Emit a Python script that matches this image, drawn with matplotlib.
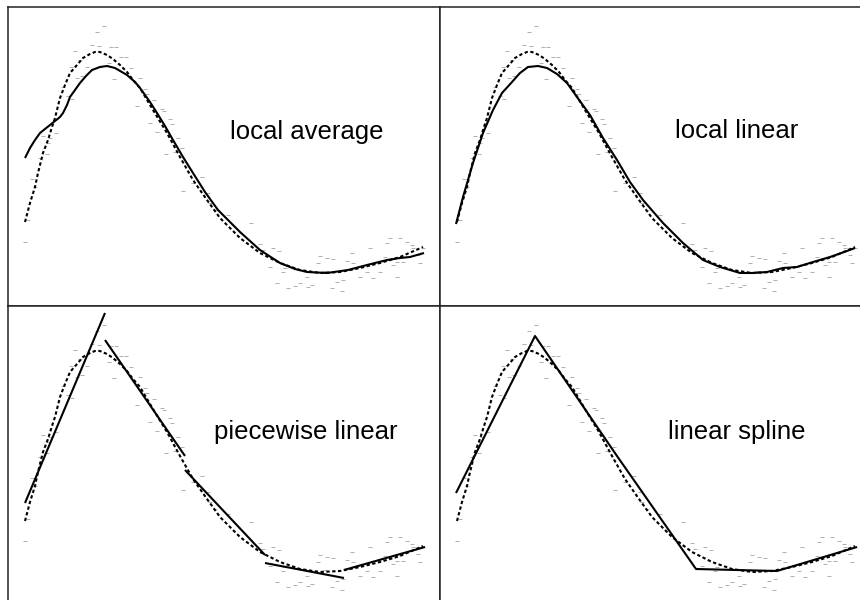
import numpy as np
import matplotlib
matplotlib.use("Agg")
import matplotlib.pyplot as plt

# ---- data (readings in panel units: x to the right, y measured downward) ----
pts_x = [25, 28, 32, 35, 40, 43, 47, 48, 50, 56, 63, 68, 72, 71, 75, 77, 80, 82, 87,
         92, 97, 99, 104, 109, 111, 114, 116, 121, 126, 131, 140, 137, 145, 147, 150,
         154, 157, 162, 164, 170, 172, 166, 175, 178, 182, 183, 193, 202, 208, 210,
         215, 228, 251, 260, 263, 273, 279, 270, 283, 285, 277, 288, 300, 295, 308,
         312, 307, 320, 327, 318, 333, 325, 337, 332, 342, 343, 347, 352, 353, 360,
         367, 370, 373, 380, 385, 387, 390, 393, 397, 400, 403, 407, 412, 413, 418,
         420, 423, 397]
pts_y = [242, 220, 179, 187, 158, 136, 154, 143, 138, 133, 87, 96, 99, 67, 51, 78, 60, 76, 67,
         45, 32, 46, 26, 63, 47, 79, 47, 57, 57, 68, 78, 106, 89, 94, 123,
         100, 132, 109, 111, 119, 124, 154, 152, 138, 148, 191, 183, 177, 193, 203,
         210, 215, 223, 244, 250, 248, 251, 267, 272, 268, 283, 288, 283, 286, 287,
         285, 277, 256, 258, 263, 259, 271, 282, 288, 291, 280, 261, 253, 263, 277,
         272, 248, 278, 272, 257, 243, 238, 265, 277, 238, 262, 242, 245, 248, 255,
         263, 248, 262]

true_x = [25, 30, 35, 38, 43, 48, 52, 55, 60, 65, 70, 77, 83, 90, 95, 100, 107, 113,
          120, 127, 133, 140, 153, 167, 180, 193, 207, 220, 240, 260, 280, 300, 320,
          340, 360, 380, 400, 423]
true_y = [222, 203, 187, 173, 153, 140, 127, 118, 98, 85, 73, 65, 58, 54, 52, 52, 55, 59,
          65, 72, 80, 88, 110, 133, 157, 180, 200, 218, 238, 253, 263, 270, 273,
          272, 268, 263, 257, 247]

lavg_x = [25, 30, 35, 40, 50, 60, 63, 67, 70, 75, 80, 86, 92, 100, 107, 115, 127, 135,
          140, 150, 157, 165, 173, 183, 193, 205, 218, 240, 260, 280, 295, 307, 327,
          348, 367, 387, 400, 410, 424]
lavg_y = [158, 148, 140, 133, 125, 117, 113, 105, 97, 90, 83, 76, 70, 67, 66, 68, 75, 82,
          88, 102, 113, 126, 140, 157, 173, 192, 210, 232, 250, 263, 269, 272, 273,
          270, 265, 260, 258, 257, 253]

llin_x = [24, 31, 41, 51, 61, 70, 80, 88, 96, 106, 115, 125, 135, 145, 158, 171, 185,
          198, 211, 231, 251, 271, 288, 308, 321, 335, 351, 365, 381, 398, 415, 423]
llin_y = [224, 197, 163, 133, 110, 93, 82, 73, 67, 66, 68, 74, 83, 97, 115, 138, 160,
          182, 200, 223, 243, 260, 267, 273, 273, 272, 268, 267, 262, 257, 251, 248]

pw_x = [[25, 105], [105, 185], [185, 265], [265, 344], [344, 425]]
pw_y = [[204, 14], [41, 157], [171, 256], [264, 279], [271, 248]]

spl_x = [24, 103, 185, 264, 345, 425]
spl_y = [194, 37, 157, 270, 272, 248]

labels = ["local average", "local linear", "piecewise linear", "linear spline"]
label_x = [307, 305, 306, 305]
label_y = [139, 138, 140, 140]

# ---- figure ----
W, H = 860, 600
fig = plt.figure(figsize=(W / 100, H / 100), dpi=100)
plt.rcParams['font.family'] = ['Liberation Sans', 'DejaVu Sans']

panel_w, panel_h = 432, 299
rects = [(8, 7), (440, 7), (8, 306), (440, 306)]
axes = []
for (lx, ty) in rects:
    ax = fig.add_axes([lx / W, 1 - (ty + panel_h) / H, panel_w / W, panel_h / H])
    ax.set_xlim(8, 440)
    ax.set_ylim(306, 7)
    ax.set_xticks([])
    ax.set_yticks([])
    for s in ax.spines.values():
        s.set_linewidth(1.1)
        s.set_color('#222222')
    axes.append(ax)

dot_style = dict(linestyle='none', marker='_', markersize=2.2, mew=0.55, color='#9a9a9a')
true_style = dict(color='black', lw=1.5, linestyle=(0, (1.6, 1.2)))
fit_style = dict(color='black', lw=1.5, solid_capstyle='butt')

for ax in axes:
    ax.plot(pts_x, pts_y, **dot_style)
    ax.plot(true_x, true_y, **true_style)

axes[0].plot(lavg_x, lavg_y, **fit_style)
axes[1].plot(llin_x, llin_y, **fit_style)
for sx, sy in zip(pw_x, pw_y):
    axes[2].plot(sx, sy, **fit_style)
axes[3].plot(spl_x, spl_y, **fit_style)

for ax, lab, lx, ly in zip(axes, labels, label_x, label_y):
    ax.text(lx, ly, lab, ha='center', va='baseline', fontsize=18.5, color='black')

fig.savefig("out.png", dpi=100)
